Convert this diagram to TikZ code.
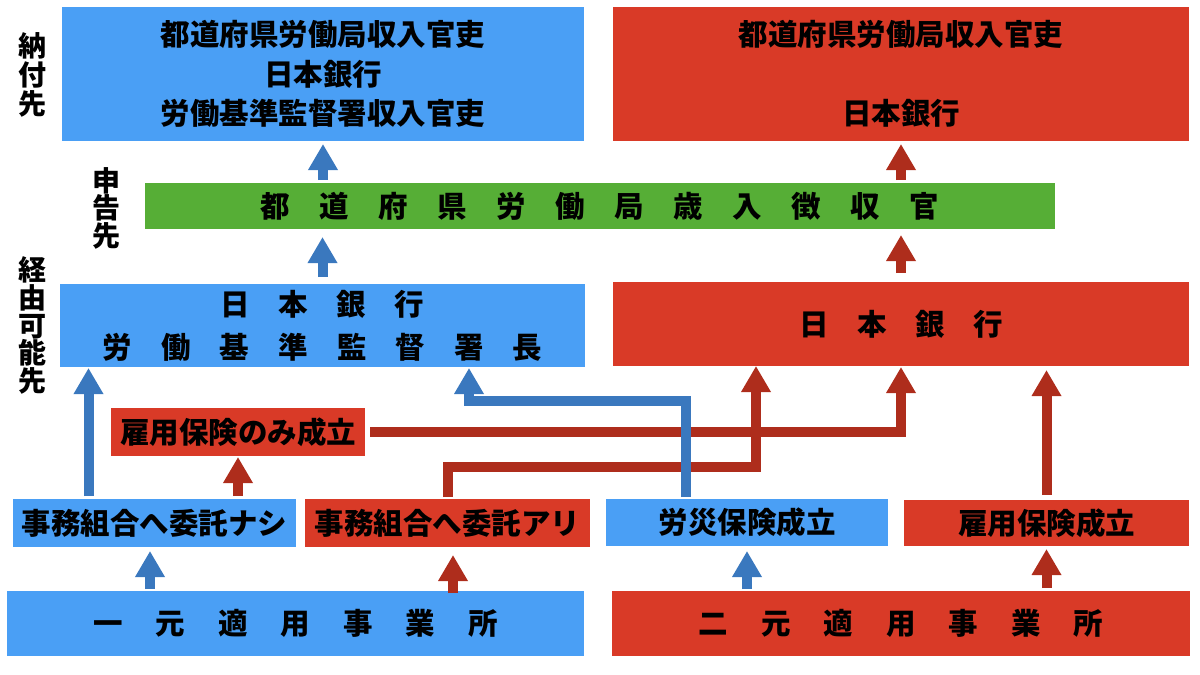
\documentclass[tikz,border=0pt]{standalone}
\usepackage{fontspec}
\setmainfont{Noto Sans CJK JP}
\usetikzlibrary{arrows.meta}
\definecolor{bluebg}{HTML}{4A9FF5}
\definecolor{bluearr}{HTML}{3A78BE}
\definecolor{redbg}{HTML}{D93A27}
\definecolor{redarr}{HTML}{AE2D1C}
\definecolor{greenbg}{HTML}{56AE36}
\tikzset{
  boxbase/.style={inner sep=0pt, outer sep=0pt, align=center, text=black,
    font=\bfseries\fontsize{29.5}{39.5}\selectfont},
  bluebox/.style={boxbase, fill=bluebg},
  redbox/.style={boxbase, fill=redbg},
  greenbox/.style={boxbase, fill=greenbg},
  sidelabel/.style={inner sep=0pt, align=center, text=black,
    font=\bfseries\fontsize{28}{28}\selectfont},
  barrow/.style={draw=bluearr, line width=10pt, line join=miter,
    -{Triangle[width=28pt,length=26pt]}},
  rarrow/.style={draw=redarr, line width=10pt, line join=miter,
    -{Triangle[width=28pt,length=26pt]}}
}
\begin{document}
\begin{tikzpicture}[x=1pt,y=-1pt]
\useasboundingbox (0,0) rectangle (1200,675);
% boxes
\node[bluebox, minimum width=522pt, minimum height=134pt] (tl) at (323,74)
  {\raisebox{0pt}[0pt][0pt]{}都道府県労働局収入官吏\\日本銀行\\労働基準監督署収入官吏};
\node[redbox, minimum width=576pt, minimum height=134pt] (tr) at (901,74)
  {都道府県労働局収入官吏\\\mbox{}\\日本銀行};
\node[greenbox, minimum width=910pt, minimum height=46pt] (gr) at (600,206)
  {都\hspace{29.5pt}道\hspace{29.5pt}府\hspace{29.5pt}県\hspace{29.5pt}労\hspace{29.5pt}働\hspace{29.5pt}局\hspace{29.5pt}歳\hspace{29.5pt}入\hspace{29.5pt}徴\hspace{29.5pt}収\hspace{29.5pt}官};
\node[bluebox, minimum width=525pt, minimum height=83pt,
  font=\bfseries\fontsize{29.5}{43}\selectfont] (ml) at (322.5,325.5)
  {日\hspace{28.5pt}本\hspace{28.5pt}銀\hspace{28.5pt}行\\
   労\hspace{29.1pt}働\hspace{29.1pt}基\hspace{29.1pt}準\hspace{29.1pt}監\hspace{29.1pt}督\hspace{29.1pt}署\hspace{29.1pt}長};
\node[redbox, minimum width=576pt, minimum height=84pt] (mr) at (901,324)
  {日\hspace{28.5pt}本\hspace{28.5pt}銀\hspace{28.5pt}行};
\node[redbox, minimum width=254pt, minimum height=48pt] (nomi) at (238,432)
  {雇用保険のみ成立};
\node[bluebox, minimum width=283pt, minimum height=48pt] (nashi) at (154.5,523)
  {事務組合へ委託ナシ};
\node[redbox, minimum width=285pt, minimum height=48pt] (ari) at (447.5,523)
  {事務組合へ委託アリ};
\node[bluebox, minimum width=282pt, minimum height=47pt] (rosai) at (747,522.5)
  {労災保険成立};
\node[redbox, minimum width=285pt, minimum height=46pt] (koyo) at (1046.5,523)
  {雇用保険成立};
\node[bluebox, minimum width=577pt, minimum height=65pt] (ichi) at (295.5,623.5)
  {一\hspace{33pt}元\hspace{33pt}適\hspace{33pt}用\hspace{33pt}事\hspace{33pt}業\hspace{33pt}所};
\node[redbox, minimum width=578pt, minimum height=65pt] (ni) at (901,623.5)
  {二\hspace{33pt}元\hspace{33pt}適\hspace{33pt}用\hspace{33pt}事\hspace{33pt}業\hspace{33pt}所};
% side labels
\node[sidelabel, font=\bfseries\fontsize{28}{29}\selectfont] (lab1) at (32.5,75) {納\\付\\先};
\node[sidelabel, font=\bfseries\fontsize{28}{27.5}\selectfont] (lab2) at (106,208) {申\\告\\先};
\node[sidelabel, font=\bfseries\fontsize{28}{27.7}\selectfont] (lab3) at (32.5,325.5) {経\\由\\可\\能\\先};
% guide coordinates
\coordinate (xa) at (88.5,0);
\coordinate (xc) at (150,0);
\coordinate (xd) at (453,0);
\coordinate (jb) at (686,401);
\coordinate (jb2) at (469,401);
\coordinate (jr) at (756,467);
% red connectors
\draw[rarrow, shorten <=3pt, shorten >=3pt] (gr.north -| tr.south) -- (tr.south);
\draw[rarrow, shorten <=9pt, shorten >=6pt] (mr.north) -- (gr.south -| mr.north);
\draw[rarrow, shorten <=3pt, shorten >=1pt] (nashi.north -| nomi.south) -- (nomi.south);
\draw[rarrow, shorten <=-2pt, shorten >=8pt] (ichi.north -| xd) -- (ari.south -| xd);
\draw[rarrow, shorten <=3pt, shorten >=3pt] (ni.north -| koyo.south) -- (koyo.south);
\draw[rarrow, shorten <=5pt, shorten >=4pt] (koyo.north) -- (mr.south -| koyo.north);
\draw[rarrow, shorten <=5pt, shorten >=1pt] (nomi.east) -- (nomi.east -| mr.south) -- (mr.south);
\draw[rarrow, shorten <=2pt] (ari.north) -- (ari.north |- jr) -- (jr) -- (mr.south -| jr);
% blue connectors
\draw[barrow, shorten <=3pt, shorten >=3pt] (gr.north -| tl.south) -- (tl.south);
\draw[barrow, shorten <=7pt, shorten >=8pt] (ml.north) -- (gr.south -| ml.north);
\draw[barrow, shorten <=3pt, shorten >=1pt] (nashi.north -| xa) -- (ml.south -| xa);
\draw[barrow, shorten <=2pt, shorten >=4pt] (ichi.north -| xc) -- (nashi.south -| xc);
\draw[barrow, shorten <=2pt, shorten >=5pt] (ni.north -| rosai.south) -- (rosai.south);
\draw[barrow, shorten <=2pt, shorten >=1pt] (rosai.north -| jb) -- (jb) -- (jb2) -- (ml.south -| jb2);
\end{tikzpicture}
\end{document}
